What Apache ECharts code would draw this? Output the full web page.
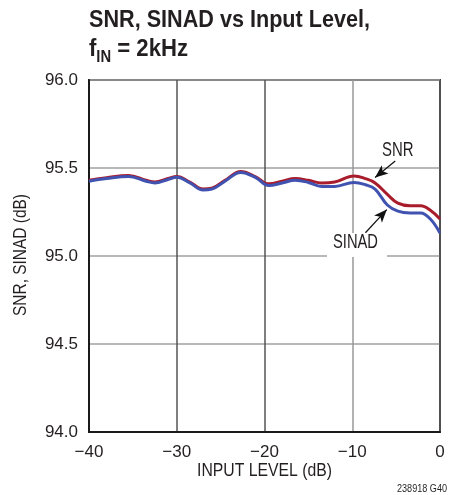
<!DOCTYPE html>
<html>
<head>
<meta charset="utf-8">
<script src="https://cdn.jsdelivr.net/npm/echarts@6/dist/echarts.min.js"></script>
<style>
  html, body { margin: 0; padding: 0; background: #fff; }
  #chart { width: 449px; height: 495px; }
</style>
</head>
<body>
<div id="chart"></div>
<script>
// Input level (dB) sample points
const inputLevel = [-40, -38, -35.5, -33.5, -32.5, -31, -30, -28.5, -27, -26, -24.5, -22.7, -21, -19.5, -18, -16.5, -15, -13.5, -12, -9.8, -8.5, -7.4, -6, -4.8, -3.4, -2.2, -1.1, 0];
// SNR (dB)
const snr = [95.43, 95.445, 95.458, 95.43, 95.42, 95.44, 95.452, 95.42, 95.38, 95.385, 95.43, 95.48, 95.45, 95.41, 95.425, 95.44, 95.43, 95.415, 95.42, 95.455, 95.44, 95.415, 95.35, 95.30, 95.285, 95.285, 95.26, 95.21];
// SINAD (dB)
const sinad = [95.425, 95.44, 95.452, 95.425, 95.415, 95.435, 95.447, 95.415, 95.375, 95.38, 95.425, 95.475, 95.445, 95.40, 95.415, 95.43, 95.418, 95.395, 95.395, 95.418, 95.405, 95.38, 95.29, 95.255, 95.245, 95.245, 95.21, 95.13];
// Axis ticks
const xTicks = [-40, -30, -20, -10, 0];
const yTicks = [94.0, 94.5, 95.0, 95.5, 96.0];

const FONT = '"Liberation Sans", Arial, sans-serif';
const INK = '#231f20';
const RED = '#a81c2c';
const BLUE = '#4153b0';

const pair = (xs, ys) => xs.map((x, i) => [x, ys[i]]);

// Horizontal squeeze so a text run in a regular face takes a narrow-face width
const measureCtx = document.createElement('canvas').getContext('2d');
function textWidth(text, font) {
  measureCtx.font = font;
  return measureCtx.measureText(text).width;
}
function squeeze(text, font, width) {
  return width / textWidth(text, font);
}

const titleFont = 'bold 24px ' + FONT;
const subFont = 'bold 16px ' + FONT;
const labelFont = '21px ' + FONT;

// Second title line: f, subscript IN, then " = 2kHz"
const fW = textWidth('f', titleFont);
const inW = textWidth('IN', subFont);
const restW = textWidth(' = 2kHz', titleFont);
const s2 = 99 / (fW + inW + restW);

function squeezedText(text, font, x, y, width, extra) {
  return Object.assign({
    type: 'text', x: x, y: y, z: 50,
    scaleX: squeeze(text, font, width),
    style: { text: text, fill: INK, font: font, align: 'left', verticalAlign: 'middle' }
  }, extra || {});
}

const chart = echarts.init(document.getElementById('chart'), null, { renderer: 'canvas' });

chart.setOption({
  animation: false,
  backgroundColor: '#fff',
  grid: { left: 89, right: 9, top: 80, bottom: 63, show: true, borderColor: '#444', borderWidth: 2 },
  xAxis: {
    type: 'value',
    min: xTicks[0], max: xTicks[xTicks.length - 1], interval: 10,
    axisLine: { show: true, onZero: false, lineStyle: { color: '#1a1a1a', width: 2 } },
    axisTick: { show: false },
    splitLine: { show: true, lineStyle: { color: ['#555', '#555', '#555', '#999'], width: 1.5 } },
    axisLabel: {
      margin: 12, color: INK, fontFamily: FONT, fontSize: 17,
      formatter: v => (v < 0 ? '\u2212' + (-v) : String(v))
    }
  },
  yAxis: {
    type: 'value',
    min: yTicks[0], max: yTicks[yTicks.length - 1], interval: 0.5,
    axisLine: { show: true, onZero: false, lineStyle: { color: '#1a1a1a', width: 2 } },
    axisTick: { show: false },
    splitLine: { show: true, lineStyle: { color: '#a0a0a0', width: 1.5 } },
    axisLabel: {
      margin: 11, color: INK, fontFamily: FONT, fontSize: 17,
      formatter: v => v.toFixed(1)
    }
  },
  series: [
    {
      name: 'SNR', type: 'line', data: pair(inputLevel, snr), smooth: 0.4,
      showSymbol: false, lineStyle: { color: RED, width: 3 }, z: 3,
      markLine: {
        silent: true, symbol: ['none', 'arrow'], symbolSize: [8, 13],
        label: { show: false },
        lineStyle: { color: '#111', width: 1.2, type: 'solid' },
        data: [
          [{ coord: [-5.1, 95.54] }, { coord: [-7.4, 95.446] }],
          [{ coord: [-8.5, 95.132] }, { coord: [-6.06, 95.264] }]
        ]
      }
    },
    {
      name: 'SINAD', type: 'line', data: pair(inputLevel, sinad), smooth: 0.4,
      showSymbol: false, lineStyle: { color: BLUE, width: 3 }, z: 4
    }
  ],
  graphic: [
    squeezedText('SNR, SINAD vs Input Level,', titleFont, 89, 20, 281),
    {
      type: 'text', x: 89, y: 49, scaleX: s2,
      style: { text: 'f', fill: INK, font: titleFont, align: 'left', verticalAlign: 'middle' }
    },
    {
      type: 'text', x: 89 + fW * s2, y: 57.5, scaleX: s2,
      style: { text: 'IN', fill: INK, font: subFont, align: 'left', verticalAlign: 'middle' }
    },
    {
      type: 'text', x: 89 + (fW + inW) * s2, y: 49, scaleX: s2,
      style: { text: ' = 2kHz', fill: INK, font: titleFont, align: 'left', verticalAlign: 'middle' }
    },
    // Axis names
    squeezedText('INPUT LEVEL (dB)', '19px ' + FONT, 197, 471, 135),
    {
      type: 'text', x: 21, y: 255, rotation: Math.PI / 2,
      scaleX: squeeze('SNR, SINAD (dB)', '18px ' + FONT, 122),
      style: { text: 'SNR, SINAD (dB)', fill: INK, font: '18px ' + FONT, align: 'center', verticalAlign: 'middle' }
    },
    // Curve labels
    squeezedText('SNR', labelFont, 382, 150, 31.5),
    {
      type: 'rect', shape: { x: 327, y: 233, width: 60, height: 24 }, z: 40,
      style: { fill: '#fff' }
    },
    squeezedText('SINAD', labelFont, 333, 242, 45),
    // Figure tag
    squeezedText('238918 G40', '11px ' + FONT, 397, 489, 50)
  ]
});
</script>
</body>
</html>
